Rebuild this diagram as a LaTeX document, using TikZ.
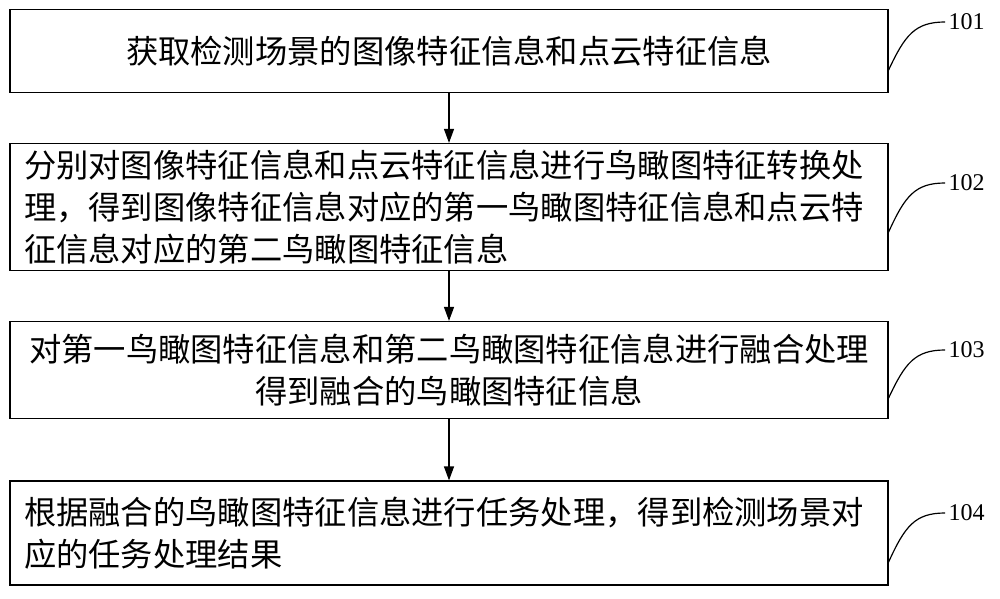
\documentclass[tikz,border=0pt]{standalone}
\usepackage{fontspec}
\setmainfont{Liberation Serif}
\newfontfamily\cjk{Noto Sans CJK SC}
\usetikzlibrary{positioning,arrows.meta}
\tikzset{stepbox/.style={draw,line width=1.2pt,minimum width=878pt,inner xsep=14pt,text width=850pt,font=\cjk\fontsize{32.3}{42}\selectfont},
  tag/.style={font=\fontsize{24}{24}\selectfont,anchor=west},
  link/.style={-{Triangle[length=14pt,width=10pt]},line width=1.2pt}}
\begin{document}
\begin{tikzpicture}[x=1pt,y=-1pt]
\useasboundingbox (0,0) rectangle (1000,598);
\node[stepbox,align=center,minimum height=83pt] (s1) at (449,51) {获取检测场景的图像特征信息和点云特征信息};
\node[stepbox,align=left,minimum height=127pt] (s2) at (449,207) {分别对图像特征信息和点云特征信息进行鸟瞰图特征转换处\\理，得到图像特征信息对应的第一鸟瞰图特征信息和点云特\\征信息对应的第二鸟瞰图特征信息};
\node[stepbox,align=center,minimum height=97pt] (s3) at (449,370) {对第一鸟瞰图特征信息和第二鸟瞰图特征信息进行融合处理\\得到融合的鸟瞰图特征信息};
\node[stepbox,align=left,minimum height=104pt] (s4) at (449,533) {根据融合的鸟瞰图特征信息进行任务处理，得到检测场景对\\应的任务处理结果};
\draw[link] (s1) -- (s2);
\draw[link] (s2) -- (s3);
\draw[link] (s3) -- (s4);
\node[tag] (t1) at (945,22) {101};
\node[tag] (t2) at (945,183) {102};
\node[tag] (t3) at (945,350) {103};
\node[tag] (t4) at (945,513) {104};
\draw[line width=1.2pt] (s1.east|-0,70) .. controls (905,35) and (915,22) .. (t1.west);
\draw[line width=1.2pt] (s2.east|-0,232) .. controls (905,196) and (915,183) .. (t2.west);
\draw[line width=1.2pt] (s3.east|-0,398) .. controls (905,363) and (915,350) .. (t3.west);
\draw[line width=1.2pt] (s4.east|-0,562) .. controls (905,526) and (915,513) .. (t4.west);
\end{tikzpicture}
\end{document}
